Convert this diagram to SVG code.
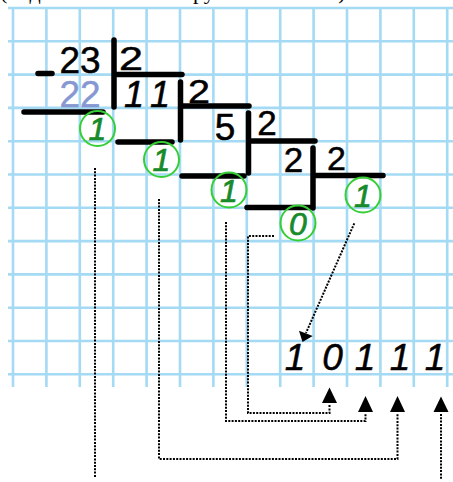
<svg xmlns="http://www.w3.org/2000/svg" width="453" height="482" viewBox="0 0 453 482">
<style>
.grid{stroke:#a4daf3;stroke-width:2.6;fill:none}
.bar{stroke:#000;stroke-width:5.5;stroke-linecap:round;fill:none}
.d{font-family:"Liberation Sans",Arial,sans-serif;fill:#000;text-anchor:middle;stroke:#000;stroke-width:0.5}
.it{font-style:italic}
.ring{fill:none;stroke:#35cf35;stroke-width:2}
.rd{font-family:"Liberation Sans",Arial,sans-serif;font-style:italic;font-size:32px;fill:#178a2a;stroke:#178a2a;stroke-width:0.7;text-anchor:middle}
.dot{fill:none;stroke:#000;stroke-width:2;stroke-dasharray:2 1.3}
.head{fill:#000}
</style>
<rect width="453" height="482" fill="#fff"/>
<text id="caption" x="0" y="-1.5" font-family="Liberation Serif, Times New Roman, serif" font-size="22" fill="#000"><tspan x="0">(поделим на</tspan><tspan x="184">группы</tspan><tspan x="299">по 2)</tspan></text>
<g id="grid" class="grid">
<path d="M13 7V387M46.4 7V387M79.8 7V387M113.2 7V387M146.6 7V387M180 7V387M213.4 7V387M246.8 7V387M280.2 7V387M313.6 7V387M347 7V387M380.4 7V387M413.8 7V387M447.2 7V387"/>
<path d="M8 8H453M8 41.3H453M8 74.6H453M8 107.9H453M8 141.2H453M8 174.5H453M8 207.8H453M8 241.1H453M8 274.4H453M8 307.7H453M8 341H453M8 374.3H453"/>
</g>
<g id="division">
<g id="step1">
<path class="bar" d="M38 73.5H52M114 40V107M114 74.5H182M24 112H103"/>
<text class="d" x="80" y="73" font-size="37">23</text>
<text class="d" x="131" y="70" font-size="34" textLength="24" lengthAdjust="spacingAndGlyphs">2</text>
<text class="d" x="80" y="107" font-size="37" style="fill:#8797d2;stroke:#8797d2">22</text>
</g>
<g id="step2">
<path class="bar" d="M180.5 82V140M181 106H249M118 142H172"/>
<text class="d it" x="134" y="107" font-size="36">1</text>
<text class="d it" x="160" y="107" font-size="36">1</text>
<text class="d" x="199" y="103" font-size="34" textLength="22" lengthAdjust="spacingAndGlyphs">2</text>
</g>
<g id="step3">
<path class="bar" d="M248.5 113V173M249 141H315M182 176H244"/>
<text class="d" x="225" y="140" font-size="37">5</text>
<text class="d" x="267" y="135" font-size="35">2</text>
</g>
<g id="step4">
<path class="bar" d="M313 148V208M315 175.5H383M247 207.5H312"/>
<text class="d" x="293.5" y="172" font-size="35">2</text>
<text class="d" x="336.5" y="170" font-size="34">2</text>
</g>
</g>
<g id="r1"><circle class="ring" cx="97.5" cy="128.5" r="17.5"/><text class="rd" x="97.5" y="140">1</text></g>
<g id="r2"><circle class="ring" cx="161.5" cy="159.5" r="17.5"/><text class="rd" x="161.5" y="171">1</text></g>
<g id="r3"><circle class="ring" cx="229" cy="190" r="17.5"/><text class="rd" x="229" y="201.5">1</text></g>
<g id="r4"><circle class="ring" cx="298" cy="223" r="17.5"/><text class="rd" x="298" y="234.5">0</text></g>
<g id="r5"><circle class="ring" cx="363" cy="195" r="17.5"/><text class="rd" x="363" y="206.5">1</text></g>
<g id="result">
<text class="d it" x="295" y="370" font-size="37">1</text>
<text class="d it" x="332.5" y="370" font-size="37">0</text>
<text class="d it" x="365" y="370" font-size="37">1</text>
<text class="d it" x="400" y="370" font-size="37">1</text>
<text class="d it" x="435" y="370" font-size="37">1</text>
</g>
<g id="connectors">
<path class="dot" d="M95 168V478"/>
<path class="dot" d="M159 199V459H397.5V413"/>
<path class="dot" d="M226 222V421H365.5V413"/>
<path class="dot" d="M274 236H248V413H329.5V404"/>
<path class="dot" d="M354.3 223.3L306 333"/>
<path class="dot" d="M441 414V480"/>
<polygon class="head" points="299,330.7 312.7,336 302.5,342"/>
<polygon class="head" points="329.5,387.5 322,403 337,403"/>
<polygon class="head" points="365.5,396 358,412 373,412"/>
<polygon class="head" points="397.5,396 390,412 405,412"/>
<polygon class="head" points="441,396.5 433.5,412 448.5,412"/>
</g>
</svg>
